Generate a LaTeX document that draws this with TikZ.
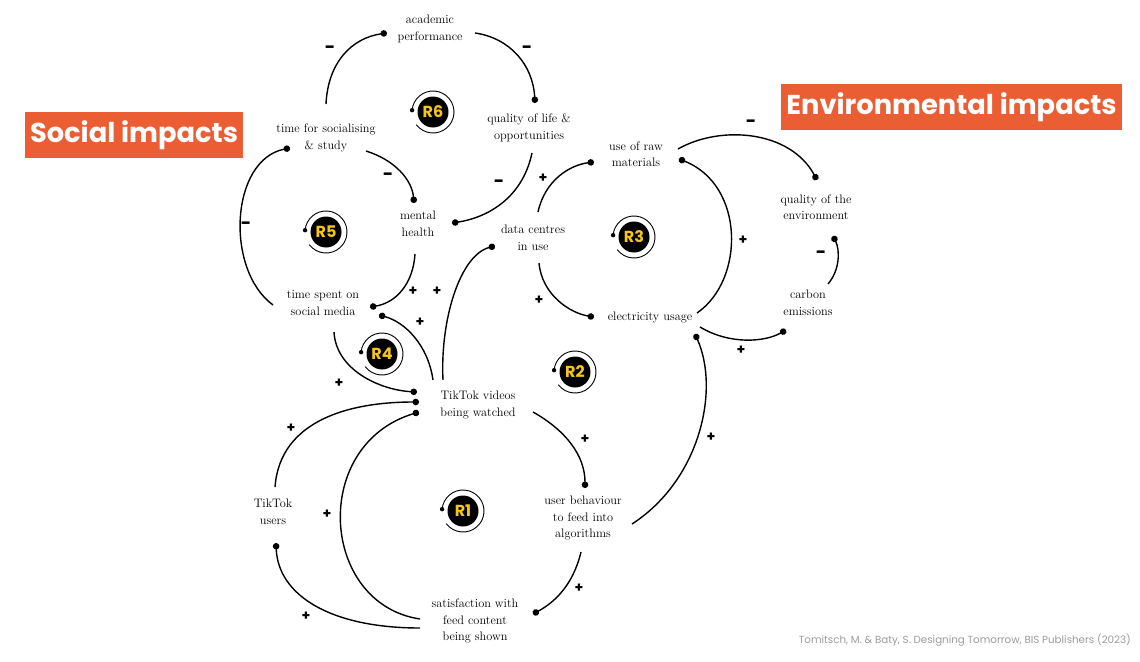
\documentclass[tikz,border=0pt]{standalone}
\usepackage{fontspec}
\newfontfamily\headfont{Poppins}
\usetikzlibrary{arrows.meta}
\definecolor{orng}{HTML}{EB5D33}
\definecolor{rgold}{HTML}{F5C518}
\definecolor{citegray}{HTML}{9C9C9C}
\newcommand\loopmark[3]{%
  \node[rbadge] (#1) at (#2) {#3};
  \draw[line width=0.9pt] ([shift={(175:21pt)}]#1.center) arc[start angle=175, delta angle=-318, radius=21pt];
  \fill ([shift={(175:21pt)}]#1.center) circle[radius=2.2pt];
}
\begin{document}
\begin{tikzpicture}[x=1pt,y=-1pt,
  lbl/.style={font=\fontsize{12.3}{16.5}\selectfont, align=center, inner sep=0pt},
  link/.style={line width=1.4pt, -{Circle[length=6.5pt]}},
  sgn/.style={font=\headfont\bfseries\fontsize{14}{14}\selectfont, inner sep=0pt},
  neg/.style={font=\headfont\bfseries\fontsize{18}{18}\selectfont, inner sep=0pt},
  head/.style={fill=orng, text=white, font=\headfont\bfseries\fontsize{27.3}{27}\selectfont, inner sep=0pt},
  rbadge/.style={circle, fill=black, minimum size=31pt, inner sep=0pt, text=rgold, font=\headfont\bfseries\fontsize{16}{16}\selectfont}
]
\useasboundingbox (0,0) rectangle (1140,661);
\fill[white] (0,0) rectangle (1140,661);

% headings
\node[head, minimum width=218pt, minimum height=46pt] (soc) at (134,135) {Social impacts};
\node[head, minimum width=341pt, minimum height=46pt] (env) at (951.5,107) {Environmental impacts};
\node[font=\headfont\fontsize{10.3}{11}\selectfont, text=citegray, anchor=east, inner sep=0pt] (cite) at (1131,640) {Tomitsch, M. \& Baty, S. Designing Tomorrow, BIS Publishers (2023)};

% variables
\node[lbl] (acad)  at (430,29)  {academic\\performance};
\node[lbl] (qol)   at (529,128) {quality of life \&\\opportunities};
\node[lbl] (tsoc)  at (326,138) {time for socialising\\\& study};
\node[lbl] (mh)    at (418,224) {mental\\health};
\node[lbl] (dc)    at (533,238) {data centres\\in use};
\node[lbl] (raw)   at (636,154) {use of raw\\materials};
\node[lbl] (qenv)  at (816,207) {quality of the\\environment};
\node[lbl] (carb)  at (808,303) {carbon\\emissions};
\node[lbl] (elec)  at (650,317) {electricity usage};
\node[lbl] (tsm)   at (323,303) {time spent on\\social media};
\node[lbl] (vid)   at (478,405) {TikTok videos\\being watched};
\node[lbl] (users) at (273,512) {TikTok\\users};
\node[lbl] (ub)    at (583,518) {user behaviour\\to feed into\\algorithms};
\node[lbl] (sat)   at (475,621) {satisfaction with\\feed content\\being shown};

% loop markers
\loopmark{r6}{433,112}{R6}
\loopmark{r5}{326,232}{R5}
\loopmark{r3}{634,237}{R3}
\loopmark{r4}{382,354}{R4}
\loopmark{r2}{575,372}{R2}
\loopmark{r1}{463,511}{R1}

% connectors
\draw[link] ([shift={(0,-34)}]tsoc.center) .. controls +(2,-42) and +(-35,5) .. ([shift={(-43,4)}]acad.center);
\draw[link] ([shift={(45,4)}]acad.center) .. controls +(35,5) and +(-2,-38) .. ([shift={(6,-25)}]qol.center);
\draw[link] ([shift={(3,25)}]qol.center) .. controls +(-10,47) and +(33,-5) .. ([shift={(34,-1)}]mh.center);
\draw[link] ([shift={(40,13)}]tsoc.center) .. controls +(29,9) and +(-2,-23) .. ([shift={(-4,-21)}]mh.center);
\draw[link] ([shift={(-50,2)}]tsm.center) .. controls +(-48,-35) and +(-60,12) .. ([shift={(-36,10)}]tsoc.center);
\draw[link] ([shift={(-3,30)}]mh.center) .. controls +(-2,31) and +(25,-4) .. ([shift={(47,4)}]tsm.center);
\draw[link] ([shift={(-45,-25)}]vid.center) .. controls +(-5,-35) and +(26,7) .. ([shift={(56,12)}]tsm.center);
\draw[link] ([shift={(11,29)}]tsm.center) .. controls +(2,38) and +(-37,-2) .. ([shift={(-61,-13)}]vid.center);
\draw[link] ([shift={(-35,-25)}]vid.center) .. controls +(-3,-60) and +(-35,9) .. ([shift={(-38,8)}]dc.center);
\draw[link] ([shift={(5,-26)}]dc.center) .. controls +(7,-32) and +(-24,3) .. ([shift={(-42,8)}]raw.center);
\draw[link] ([shift={(6,25)}]dc.center) .. controls +(3,32) and +(-24,-4) .. ([shift={(-56,0)}]elec.center);
\draw[link] ([shift={(47,-4)}]elec.center) .. controls +(48,-33) and +(66,26) .. ([shift={(43,5)}]raw.center);
\draw[link] ([shift={(42,-5)}]raw.center) .. controls +(42,-24) and +(-27,-50) .. ([shift={(1,-27)}]qenv.center);
\draw[link] ([shift={(20,-19)}]carb.center) .. controls +(12,-14) and +(7,14) .. ([shift={(17,29)}]qenv.center);
\draw[link] ([shift={(50,10)}]elec.center) .. controls +(30,18) and +(-21,12) .. ([shift={(-22,27)}]carb.center);
\draw[link] ([shift={(49,6)}]ub.center) .. controls +(68,-44) and +(25,56) .. ([shift={(45,17)}]elec.center);
\draw[link] ([shift={(55,7)}]vid.center) .. controls +(32,18) and +(0,-33) .. ([shift={(2,-30)}]ub.center);
\draw[link] ([shift={(-2,34)}]ub.center) .. controls +(-8,33) and +(22,-12) .. ([shift={(58,-7)}]sat.center);
\draw[link] ([shift={(-55,-2)}]sat.center) .. controls +(-100,-15) and +(-109,33) .. ([shift={(-59,7)}]vid.center);
\draw[link] ([shift={(2,-25)}]users.center) .. controls +(5,-67) and +(-69,0) .. ([shift={(-59,-3)}]vid.center);
\draw[link] ([shift={(-55,7)}]sat.center) .. controls +(-90,0) and +(2,52) .. ([shift={(3,31)}]users.center);

% polarity signs
\node[neg] (p1) at (330,50) {-};
\node[neg] (p2) at (527,50) {-};
\node[neg] (p3) at (499,184) {-};
\node[neg] (p4) at (388,177) {-};
\node[neg] (p5) at (246,226) {-};
\node[sgn] (p6) at (413,291) {+};
\node[sgn] (p7) at (437,291) {+};
\node[sgn] (p8) at (420,322) {+};
\node[sgn] (p9) at (339,383) {+};
\node[sgn] (p10) at (543,178) {+};
\node[sgn] (p11) at (539,300) {+};
\node[sgn] (p12) at (743,240) {+};
\node[neg] (p13) at (751,124) {-};
\node[neg] (p14) at (821,255) {-};
\node[sgn] (p15) at (741,350) {+};
\node[sgn] (p16) at (711,437) {+};
\node[sgn] (p17) at (585,439) {+};
\node[sgn] (p18) at (579,588) {+};
\node[sgn] (p19) at (327,514) {+};
\node[sgn] (p20) at (291,428) {+};
\node[sgn] (p21) at (306,616) {+};
\end{tikzpicture}
\end{document}
